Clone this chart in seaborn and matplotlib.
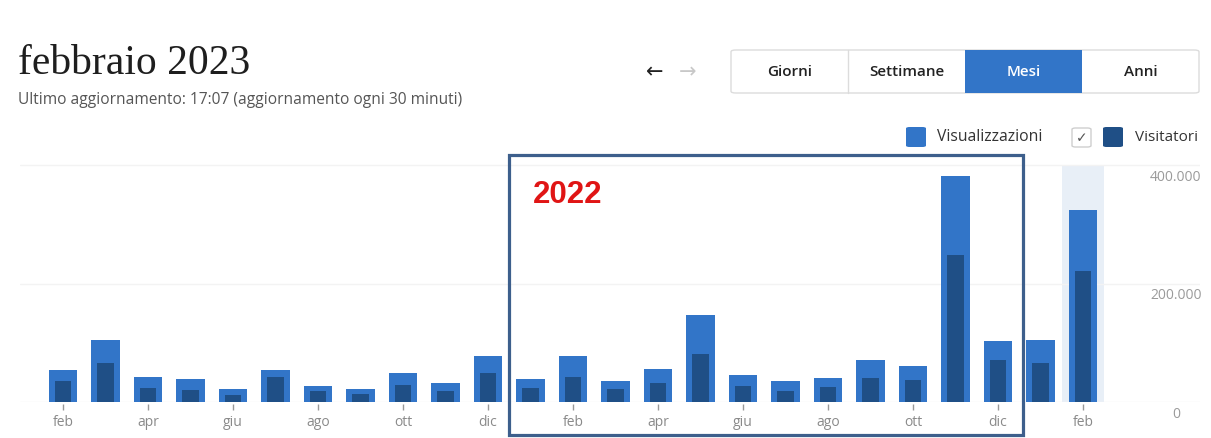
import matplotlib
matplotlib.use("Agg")
import matplotlib.pyplot as plt
from matplotlib.patches import Rectangle, FancyBboxPatch
import matplotlib.transforms as mtrans
import seaborn as sns
import pandas as pd

# ---- data ----
months = ["2021-02", "2021-03", "2021-04", "2021-05", "2021-06", "2021-07", "2021-08",
          "2021-09", "2021-10", "2021-11", "2021-12", "2022-01", "2022-02", "2022-03",
          "2022-04", "2022-05", "2022-06", "2022-07", "2022-08", "2022-09", "2022-10",
          "2022-11", "2022-12", "2023-01", "2023-02"]
visualizzazioni = [53600, 105000, 41700, 38300, 21400, 53600, 27100, 22000, 48500, 32200,
                   77300, 39000, 78000, 34900, 55300, 147500, 45100, 34900, 40000, 71200,
                   61000, 382400, 103900, 105600, 324800]
visitatori = [34900, 66600, 24200, 20800, 11900, 41700, 18000, 12900, 28800, 18600,
              49200, 23000, 42900, 21400, 32700, 81900, 27100, 18000, 24700, 41200,
              37300, 249200, 71700, 66100, 221400]
tick_labels = ["feb", "", "apr", "", "giu", "", "ago", "", "ott", "", "dic", "",
               "feb", "", "apr", "", "giu", "", "ago", "", "ott", "", "dic", "", "feb"]
y_ticks = [0, 200000, 400000]
y_tick_labels = ["0", "200.000", "400.000"]

df = pd.DataFrame({"mese": months, "Visualizzazioni": visualizzazioni, "Visitatori": visitatori})

W, H = 1211, 438
C_VIEWS = "#3275c8"
C_VISIT = "#1f4f86"

sns.set_theme(style="white")
plt.rcParams["font.family"] = ["Open Sans", "DejaVu Sans"]

fig = plt.figure(figsize=(W / 100, H / 100), dpi=100)
fig.patch.set_facecolor("white")

def fx(x):
    return x / W

def fy(y):
    return 1 - y / H

# axes: pixel x 20..1200, y 160..402
px_per_unit = 42.5
x0_px = 63
val_per_px = 1690
ax_left, ax_right, ax_top, ax_bot = 20, 1200, 160, 402
ax = fig.add_axes([fx(ax_left), fy(ax_bot), fx(ax_right - ax_left), (ax_bot - ax_top) / H])
ax.set_facecolor("none")

sns.barplot(data=df, x="mese", y="Visualizzazioni", order=months, color=C_VIEWS,
            width=0.68, saturation=1, ax=ax, zorder=2, linewidth=0, edgecolor="none")
sns.barplot(data=df, x="mese", y="Visitatori", order=months, color=C_VISIT,
            width=0.38, saturation=1, ax=ax, zorder=3, linewidth=0, edgecolor="none")

ax.set_xlim((ax_left - x0_px) / px_per_unit, (ax_right - x0_px) / px_per_unit)
ymax = (ax_bot - ax_top) * val_per_px
ax.set_ylim(0, ymax)

# highlighted current month band
ax.axvspan(len(months) - 1.5, len(months) - 0.5, ymin=0, ymax=400000 / ymax,
           color="#e8eff7", zorder=0, lw=0)

# gridlines
for v in y_ticks:
    ax.axhline(v, color="#f3f3f3", lw=1, zorder=1)

# y labels on the right, below gridlines
off = mtrans.offset_copy(ax.transData, fig=fig, x=0, y=-12, units="dots")
for v, lab in zip(y_ticks, y_tick_labels):
    ax.text((1176 - x0_px) / px_per_unit, v, lab, transform=off, ha="center", va="center",
            color="#9a9a9a", fontsize=10)

ax.set_yticks([])
ax.set_xticks(range(len(months)))
ax.set_xticklabels(tick_labels, color="#8a8a8a", fontsize=10)
ax.tick_params(axis="x", length=0, pad=9)
ax.set_xlabel("")
ax.set_ylabel("")
for s in ax.spines.values():
    s.set_visible(False)
# small tick marks at labelled months
tick_off = mtrans.offset_copy(ax.transData, fig=fig, x=0, y=-5, units="dots")
for i, lab in enumerate(tick_labels):
    if lab:
        ax.plot([i], [0], marker="|", markersize=5, color="#999999", clip_on=False,
                markeredgewidth=1, zorder=1, transform=tick_off)

# ---- header ----
fig.text(fx(18), fy(64), "febbraio 2023", fontsize=30, family=["Liberation Serif", "DejaVu Serif"],
         color="#1e1e1e", va="center", ha="left")
fig.text(fx(18), fy(100), "Ultimo aggiornamento: 17:07 (aggiornamento ogni 30 minuti)",
         fontsize=11.2, color="#555555", va="center", ha="left")

fig.text(fx(655), fy(72), "\u2190", fontsize=15, color="#222222", ha="center", va="center",
         family=["DejaVu Sans"])
fig.text(fx(688), fy(72), "\u2192", fontsize=15, color="#c8c8c8", ha="center", va="center",
         family=["DejaVu Sans"])

# segmented control
bx0, bx1, by0, by1 = 731, 1199, 50, 93
outer = FancyBboxPatch((fx(bx0), fy(by1)), fx(bx1 - bx0), (by1 - by0) / H,
                       boxstyle="round,pad=0,rounding_size=0.004", transform=fig.transFigure,
                       facecolor="white", edgecolor="#dcdcdc", lw=1)
fig.patches.append(outer)
seg_w = (bx1 - bx0) / 4
names = ["Giorni", "Settimane", "Mesi", "Anni"]
for i, n in enumerate(names):
    sx = bx0 + i * seg_w
    if n == "Mesi":
        fig.patches.append(Rectangle((fx(sx), fy(by1)), fx(seg_w), (by1 - by0) / H,
                                     transform=fig.transFigure, facecolor=C_VIEWS, lw=0))
        col = "white"
    else:
        col = "#222222"
        if i > 0 and names[i - 1] != "Mesi":
            fig.lines.append(plt.Line2D([fx(sx), fx(sx)], [fy(by0), fy(by1)],
                                        transform=fig.transFigure, color="#dcdcdc", lw=1))
    fig.text(fx(sx + seg_w / 2), fy((by0 + by1) / 2), n, fontsize=11, color=col,
             ha="center", va="center", fontweight="semibold")

# legend
def sq(x, y, s, fc, ec=None, lw=0):
    p = FancyBboxPatch((fx(x), fy(y + s)), fx(s), s / H,
                       boxstyle="round,pad=0,rounding_size=0.003", transform=fig.transFigure,
                       facecolor=fc, edgecolor=ec if ec else fc, lw=lw)
    fig.patches.append(p)

sq(906, 127, 20, C_VIEWS)
fig.text(fx(937), fy(137), "Visualizzazioni", fontsize=11.3, color="#333333", ha="left", va="center")
sq(1072, 128, 19, "white", "#cfcfcf", 1)
fig.text(fx(1081.5), fy(138), "\u2713", fontsize=10, color="#555555", ha="center", va="center",
         family=["DejaVu Sans"])
sq(1103, 127, 20, C_VISIT)
fig.text(fx(1135), fy(137), "Visitatori", fontsize=11, color="#333333", ha="left", va="center")

# annotation box for 2022
fig.patches.append(Rectangle((fx(509), fy(435)), fx(1023 - 509), (435 - 155) / H,
                             transform=fig.transFigure, facecolor="none",
                             edgecolor="#3d5f8c", lw=2.3, zorder=10))
fig.text(fx(533), fy(195), "2022", fontsize=22.5, fontweight="bold", color="#e01515",
         ha="left", va="center", family=["Liberation Sans", "DejaVu Sans"])

fig.savefig("out.png", dpi=100, facecolor="white")
